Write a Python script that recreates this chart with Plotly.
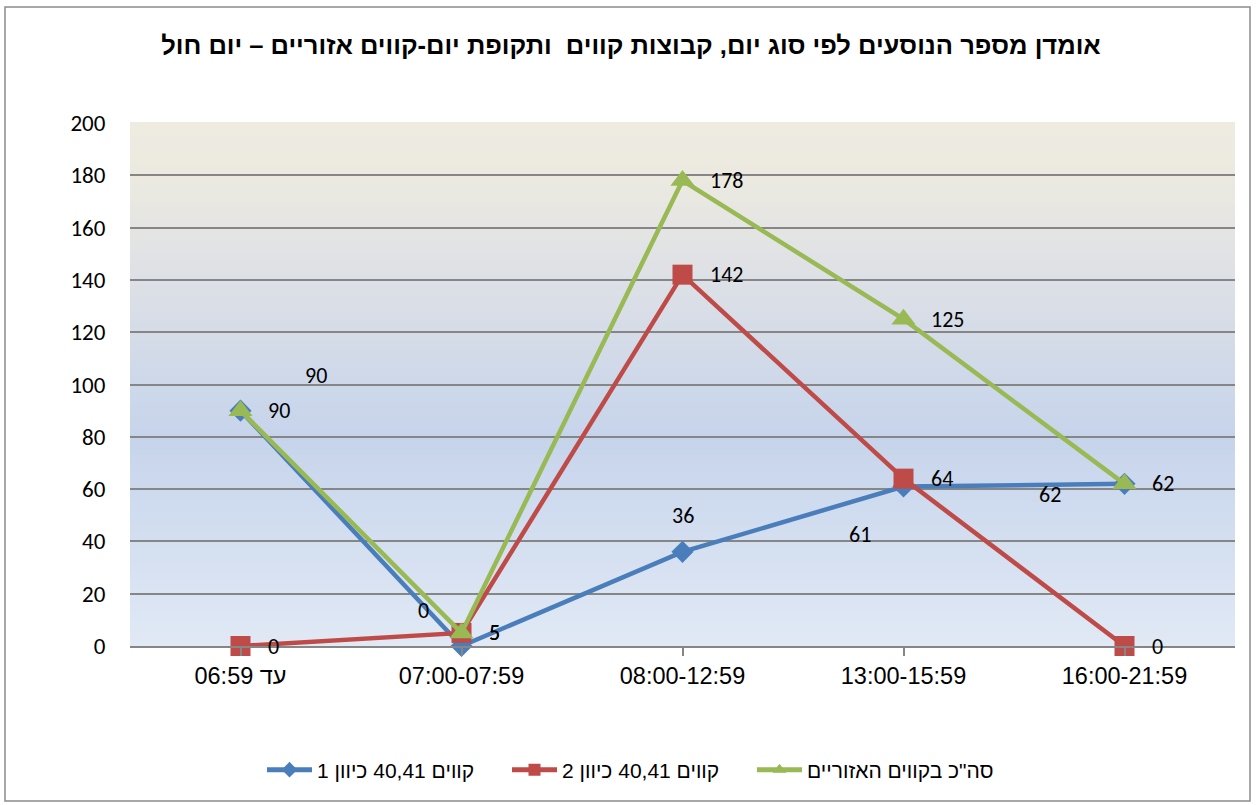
import plotly.graph_objects as go

categories = ["עד 06:59", "07:00-07:59", "08:00-12:59", "13:00-15:59", "16:00-21:59"]
series_names = ["קווים 40,41 כיוון 1", "קווים 40,41 כיוון 2", "סה\"כ בקווים האזוריים"]
dir1 = [90, 0, 36, 61, 62]
dir2 = [0, 5, 142, 64, 0]
total = [90, 5, 178, 125, 62]
y_ticks = [0, 20, 40, 60, 80, 100, 120, 140, 160, 180, 200]
title_text = "אומדן מספר הנוסעים לפי סוג יום, קבוצות קווים  ותקופת יום-קווים אזוריים – יום חול"

colors = ["#4A7EBB", "#BE4B48", "#98B954"]
symbols = ["diamond", "square", "triangle-up"]
msizes = [17, 20, 21]

fig = go.Figure()
for name, vals, c, s, ms in zip(series_names, [dir1, dir2, total], colors, symbols, msizes):
    fig.add_trace(go.Scatter(
        x=list(range(len(categories))), y=vals, name=name, mode="lines+markers",
        line=dict(color=c, width=4.5), marker=dict(symbol=s, size=ms, color=c),
        cliponaxis=False,
    ))

# label offsets (style only): (xshift, yshift, xanchor)
blue_off = [(75, 35, "center"), (-38, 36, "center"), (0, 36, "center"), (-44, -48, "center"), (-75, -11, "center")]
annotations = []
lab_font = dict(family="Carlito, Lato, sans-serif", size=22, color="#000000")
for i, v in enumerate(dir1):
    xs, ys, xa = blue_off[i]
    annotations.append(dict(x=i, y=v, xref="x", yref="y", text=str(v), showarrow=False,
                            xshift=xs, yshift=ys, xanchor=xa, yanchor="middle", font=lab_font))
for vals in (dir2, total):
    for i, v in enumerate(vals):
        annotations.append(dict(x=i, y=v, xref="x", yref="y", text=str(v), showarrow=False,
                                xshift=25, yshift=0, xanchor="left", yanchor="middle", font=lab_font))

# gradient background stripes
def lerp(a, b, t):
    return tuple(int(round(a[k] + (b[k] - a[k]) * t)) for k in range(3))

stops = [(0.0, (225, 233, 245)), (0.40, (198, 212, 235)), (0.70, (221, 224, 230)), (0.90, (236, 234, 224)), (1.0, (238, 236, 225))]
shapes = []
N = 120
for j in range(N):
    t = (j + 0.5) / N
    for k in range(len(stops) - 1):
        if stops[k][0] <= t <= stops[k + 1][0]:
            tt = (t - stops[k][0]) / (stops[k + 1][0] - stops[k][0])
            col = lerp(stops[k][1], stops[k + 1][1], tt)
            break
    shapes.append(dict(type="rect", xref="paper", yref="paper", x0=0, x1=1, y0=j / N, y1=(j + 1) / N + 0.002,
                       fillcolor="rgb(%d,%d,%d)" % col, line=dict(width=0), layer="below"))

# outer frame
W, H = 1256, 805
ml, mr, mt, mb = 130, 21, 123, 159
pw, ph = W - ml - mr, H - mt - mb
def px_x(x):
    return (x - ml) / pw
def px_y(y):
    return (H - mb - y) / ph
shapes.append(dict(type="rect", xref="paper", yref="paper", x0=px_x(5), x1=px_x(1250), y0=px_y(801), y1=px_y(7),
                   line=dict(color="#8C8C8C", width=1.5), fillcolor="rgba(0,0,0,0)", layer="below"))

fig.update_layout(
    width=W, height=H,
    margin=dict(l=ml, r=mr, t=mt, b=mb),
    paper_bgcolor="white", plot_bgcolor="white",
    title=dict(text="<b>" + title_text + "</b>", x=(631) / W, xanchor="center", y=1 - 45 / H, yanchor="middle",
               font=dict(family="Liberation Sans, Arial, sans-serif", size=25.5, color="#000000")),
    xaxis=dict(tickmode="array", tickvals=list(range(len(categories))), ticktext=categories,
               range=[-0.5, len(categories) - 0.5], showgrid=False, zeroline=False,
               showline=True, linecolor="#868686", linewidth=1.5,
               ticks="outside", ticklen=8, tickcolor="#868686", tickwidth=1.5,
               tickfont=dict(family="Liberation Sans, Arial, sans-serif", size=23.5, color="#000000")),
    yaxis=dict(range=[0, 200], tickvals=y_ticks, showgrid=True, gridcolor="#868686", gridwidth=1.5,
               zeroline=False, showline=False, ticks="outside", ticklen=19, tickcolor="rgba(0,0,0,0)",
               tickfont=dict(family="Carlito, Lato, sans-serif", size=23, color="#000000")),
    legend=dict(orientation="h", x=px_x(262), xanchor="left", y=px_y(770), yanchor="middle",
                font=dict(family="Liberation Sans, Arial, sans-serif", size=21, color="#000000"),
                itemwidth=45, entrywidth=185, itemsizing="constant",
                bgcolor="rgba(0,0,0,0)", traceorder="normal"),
    annotations=annotations,
    shapes=shapes,
)

fig.write_html("out.html", config={"displayModeBar": False},
               post_script="document.body.style.margin='0';document.body.style.overflow='hidden';")
